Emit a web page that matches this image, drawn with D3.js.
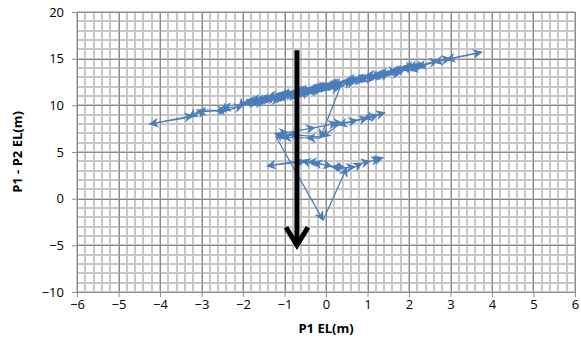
<!DOCTYPE html>
<html>
<head>
<meta charset="utf-8">
<script src="https://cdn.jsdelivr.net/npm/d3@7"></script>
<style>
  body { margin: 0; background: #fff; }
  svg { display: block; font-family: "Open Sans", "Liberation Sans", sans-serif; }
</style>
</head>
<body>
<div id="chart"></div>
<script>
// tick values
const xTicks = [-6, -5, -4, -3, -2, -1, 0, 1, 2, 3, 4, 5, 6];
const yTicks = [-10, -5, 0, 5, 10, 15, 20];

// main band (P1 EL, P1-P2 EL), in path order
const bandX = [0.3, 0.1, -0.2, 0.0, -0.4, -0.6, -0.3, -0.8, -1.0, -0.7, -1.2, -1.4, -1.1, -1.6, -1.8, -1.5,
  -2.0, -2.1, -2.5, -2.3, -2.65, -3.1, -3.3, -4.25, -3.2, -2.9, -2.4, -2.0, -1.7, -1.3, -1.0, -0.6,
  -0.5, -0.1, 0.2, 0.4, 0.6, 0.9, 1.1, 1.3, 1.5, 1.7, 1.9, 2.1, 2.3, 2.0, 2.7, 3.0, 3.75, 2.9,
  2.6, 2.2, 1.8, 1.6, 1.2, 1.0, 0.7, 0.5, 0.1, -0.2, -0.5, -0.8, -1.2, -1.5, -1.9, -1.6, -1.2, -0.9,
  -0.6, -0.3, 0.0, 0.3, 0.7, 1.0, 1.4, 1.8, 2.1, 2.4, 2.0, 1.6, 1.3, 0.9, 0.5, 0.2, -0.1, -0.4,
  -0.1, -0.7, -1.0, -1.3, -1.7, -1.4, -1.0, -0.7, -0.4, 0.0, 0.4, 0.8, 1.2, 1.5, 1.9, 2.2,
  1.9, 1.5, 1.1, 0.8, 0.4, 0.0, -0.3, -0.7, -1.1, -1.4, -1.8, -1.5, -1.1, -0.8, -0.5, -0.2, 0.1, 0.34];
const bandY = [12.5, 12.0, 12.1, 11.8, 11.9, 11.3, 11.6, 11.5, 10.9, 11.1, 11.1, 10.5, 10.8, 10.7, 10.1, 10.4,
  10.3, 9.8, 9.8, 9.5, 9.4, 9.3, 8.7, 8.0, 8.9, 9.5, 9.4, 10.0, 10.6, 10.6, 11.3, 11.0,
  11.7, 11.8, 12.3, 12.1, 12.7, 12.6, 13.3, 13.0, 13.7, 13.5, 14.2, 13.9, 14.5, 14.0, 14.8, 15.0, 15.7, 14.9,
  14.6, 14.1, 13.9, 13.4, 13.4, 12.9, 12.9, 12.4, 12.4, 11.7, 11.4, 11.2, 10.7, 10.8, 10.3, 10.3, 10.9, 10.9,
  11.6, 11.4, 12.2, 12.0, 12.6, 13.2, 13.1, 13.6, 14.3, 14.2, 13.8, 13.8, 13.2, 13.0, 12.7, 12.0, 12.1, 11.5,
  11.6, 11.2, 11.0, 10.9, 10.4, 10.6, 10.8, 11.5, 11.8, 11.9, 12.4, 12.9, 12.9, 13.5, 13.8, 14.4,
  14.0, 13.3, 13.1, 12.6, 12.6, 12.0, 11.9, 11.3, 11.2, 10.9, 10.5, 10.5, 10.7, 11.4, 11.2, 12.0, 11.7, 11.9];

// lower cluster (y about 6.5 to 9)
const midX = [-0.14, -0.46, -1.04, -1.23, -0.92, -0.27, 0.27, 0.39, 0.75, 1.01, 1.25, 1.42, 0.9, 0.3, -0.1, -0.9, -1.2];
const midY = [6.5, 6.5, 6.6, 7.0, 7.1, 7.6, 8.1, 8.1, 8.4, 8.6, 9.0, 9.2, 8.6, 7.9, 6.6, 6.9, 6.6];

// drop and the lowest cluster (y about 3.3 to 4.4)
const lowX = [-0.07, 0.5, 0.14, -0.31, -0.43, -0.58, -1.42, -0.5, 0.14, 0.46, 0.7, 0.87, 1.06, 1.3, 1.37];
const lowY = [-2.3, 3.3, 3.4, 3.9, 3.9, 4.1, 3.5, 4.0, 3.5, 3.3, 3.4, 3.8, 4.0, 4.3, 4.4];

// big black arrow: x, top y, bottom y
const bigArrow = [-0.7, 15.9, -5.2];

const width = 581, height = 342;
const margin = { top: 12, right: 6, bottom: 50, left: 77 };

const svg = d3.select('#chart').append('svg')
  .attr('width', width)
  .attr('height', height);

const x = d3.scaleLinear().domain([-6, 6]).range([margin.left, width - margin.right]);
const y = d3.scaleLinear().domain([-10, 20]).range([height - margin.bottom, margin.top]);

// minor grid
const xMinor = d3.range(-6, 6.001, 0.2).map(v => +v.toFixed(1));
const yMinor = d3.range(-10, 20.001, 1);

const grid = svg.append('g').attr('shape-rendering', 'crispEdges');
grid.selectAll('line.xm').data(xMinor).enter().append('line')
  .attr('x1', d => Math.round(x(d))).attr('x2', d => Math.round(x(d)))
  .attr('y1', y(-10)).attr('y2', y(20))
  .attr('stroke', '#c8c8c8').attr('stroke-width', 2);
grid.selectAll('line.ym').data(yMinor).enter().append('line')
  .attr('y1', d => Math.round(y(d))).attr('y2', d => Math.round(y(d)))
  .attr('x1', x(-6)).attr('x2', x(6))
  .attr('stroke', '#c8c8c8').attr('stroke-width', 2);

// major grid
grid.selectAll('line.xM').data(xTicks).enter().append('line')
  .attr('x1', d => Math.round(x(d))).attr('x2', d => Math.round(x(d)))
  .attr('y1', y(-10)).attr('y2', y(20))
  .attr('stroke', '#8c8c8c').attr('stroke-width', 1);
grid.selectAll('line.yM').data(yTicks).enter().append('line')
  .attr('y1', d => Math.round(y(d))).attr('y2', d => Math.round(y(d)))
  .attr('x1', x(-6)).attr('x2', x(6))
  .attr('stroke', '#8c8c8c').attr('stroke-width', 1);

// axes
const xAxis = svg.append('g')
  .attr('transform', `translate(0,${y(-10)})`)
  .call(d3.axisBottom(x).tickValues(xTicks).tickSize(5).tickPadding(3));
const yAxis = svg.append('g')
  .attr('transform', `translate(${x(-6)},0)`)
  .call(d3.axisLeft(y).tickValues(yTicks).tickSize(5).tickPadding(8));

[xAxis, yAxis].forEach(a => {
  a.select('.domain').attr('stroke', '#8c8c8c');
  a.selectAll('.tick line').attr('stroke', '#8c8c8c');
  a.selectAll('.tick text')
    .attr('fill', '#000')
    .style('font-size', '13px')
    .style('font-family', '"Open Sans", sans-serif');
});

// axis titles
svg.append('text')
  .attr('x', 326).attr('y', 333)
  .attr('text-anchor', 'middle')
  .style('font-size', '13px').style('font-weight', 'bold')
  .text('P1 EL(m)');
svg.append('text')
  .attr('transform', `translate(22,${(y(-10) + y(20)) / 2}) rotate(-90)`)
  .attr('text-anchor', 'middle')
  .style('font-size', '13px').style('font-weight', 'bold')
  .text('P1 - P2 EL(m)');

// arrow marker for the data series
const defs = svg.append('defs');
defs.append('marker')
  .attr('id', 'tip')
  .attr('viewBox', '0 0 10 10')
  .attr('refX', 9).attr('refY', 5)
  .attr('markerWidth', 12).attr('markerHeight', 10)
  .attr('markerUnits', 'userSpaceOnUse')
  .attr('orient', 'auto')
  .append('path')
  .attr('d', 'M0,0 L10,5 L0,10 L3,5 Z')
  .attr('fill', '#4a7ebb');

// join the series into one ordered path
const pts = [];
bandX.forEach((v, i) => pts.push([v, bandY[i]]));
midX.forEach((v, i) => pts.push([v, midY[i]]));
lowX.forEach((v, i) => pts.push([v, lowY[i]]));

const segs = d3.pairs(pts);
svg.append('g').selectAll('line')
  .data(segs).enter().append('line')
  .attr('x1', d => x(d[0][0])).attr('y1', d => y(d[0][1]))
  .attr('x2', d => x(d[1][0])).attr('y2', d => y(d[1][1]))
  .attr('stroke', '#4a7ebb')
  .attr('stroke-width', 1.25)
  .attr('marker-end', 'url(#tip)');

// big black arrow
const ax = x(bigArrow[0]);
const aTop = y(bigArrow[1]);
const aBot = y(bigArrow[2]);
const arrowG = svg.append('g');
arrowG.append('line')
  .attr('x1', ax).attr('x2', ax)
  .attr('y1', aTop).attr('y2', aBot - 3)
  .attr('stroke', '#000').attr('stroke-width', 5);
arrowG.append('path')
  .attr('d', `M${ax - 11},${aBot - 20} L${ax},${aBot - 2} L${ax + 11},${aBot - 20}`)
  .attr('fill', 'none')
  .attr('stroke', '#000')
  .attr('stroke-width', 5)
  .attr('stroke-linejoin', 'miter');
</script>
</body>
</html>
